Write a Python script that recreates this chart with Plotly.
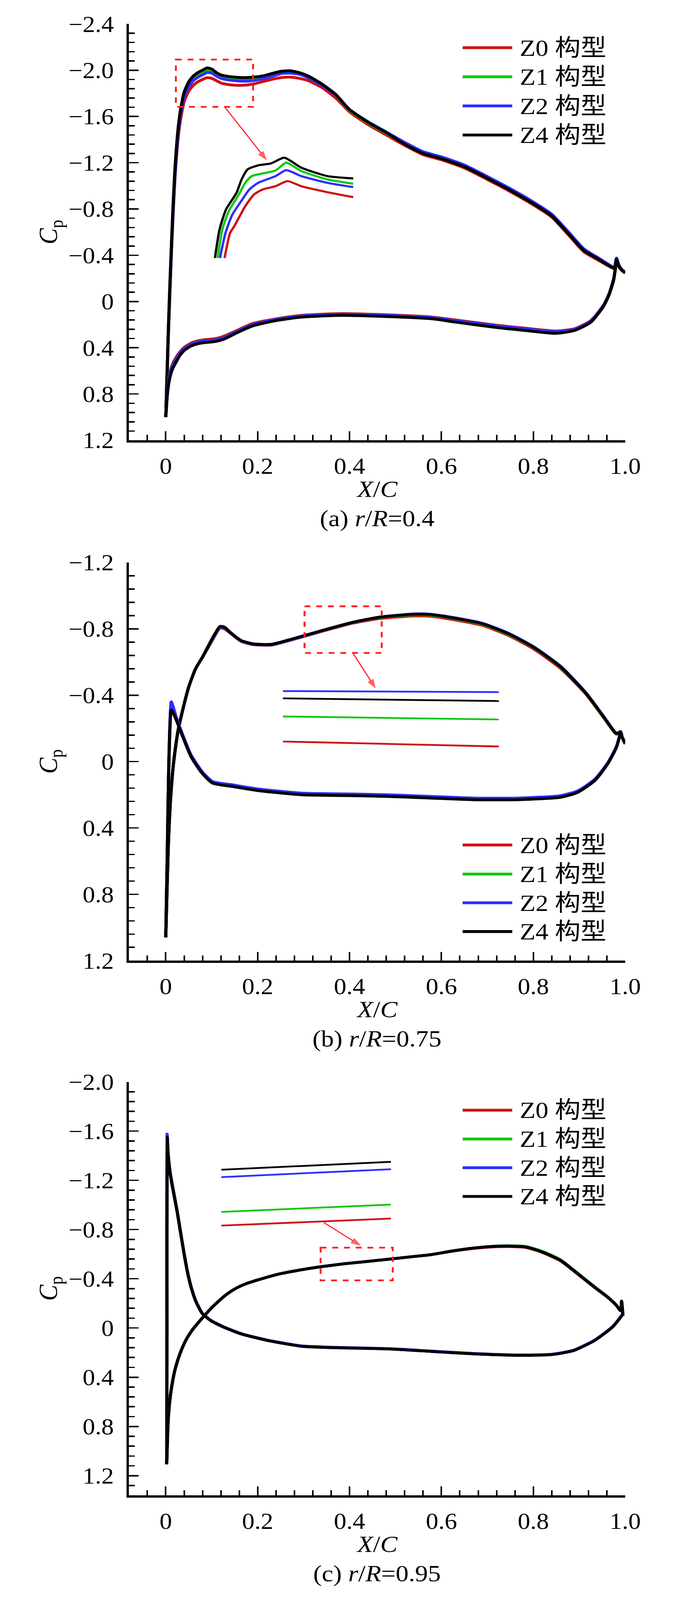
import plotly.graph_objects as go

W, H = 1772, 4509

names = ["Z0 构型", "Z1 构型", "Z2 构型", "Z4 构型"]
colors = ["#d01010", "#10c810", "#2d2dff", "#000000"]

# ---------------- (a) r/R=0.4 ----------------
xa_up = [0.0, 0.003, 0.006, 0.01, 0.015, 0.02, 0.025, 0.03, 0.035, 0.04, 0.05, 0.06, 0.07, 0.08,
         0.09, 0.1, 0.11, 0.12, 0.13, 0.15, 0.17, 0.19, 0.21, 0.23, 0.25, 0.27, 0.29, 0.31, 0.34,
         0.37, 0.4, 0.44, 0.48, 0.52, 0.56, 0.6, 0.65, 0.7, 0.75, 0.8, 0.84, 0.88, 0.91, 0.94,
         0.96, 0.976, 0.981, 0.986, 0.993, 1.0]
cpa_up_z0 = [1.0, 0.62, 0.24, -0.2, -0.68, -1.07, -1.34, -1.52, -1.64, -1.73, -1.82, -1.87, -1.9, -1.92,
             -1.935, -1.93, -1.91, -1.89, -1.88, -1.87, -1.87, -1.88, -1.9, -1.92, -1.935, -1.94, -1.93,
             -1.91, -1.85, -1.76, -1.64, -1.53, -1.44, -1.35, -1.27, -1.225, -1.155, -1.055, -0.95,
             -0.835, -0.73, -0.56, -0.43, -0.36, -0.315, -0.285, -0.36, -0.3, -0.265, -0.245]
cpa_up_z1 = [1.0, 0.6, 0.21, -0.24, -0.73, -1.13, -1.4, -1.58, -1.7, -1.79, -1.88, -1.93, -1.96, -1.98,
             -2.0, -1.99, -1.965, -1.945, -1.935, -1.925, -1.92, -1.925, -1.935, -1.955, -1.975, -1.98,
             -1.97, -1.94, -1.875, -1.785, -1.655, -1.545, -1.455, -1.36, -1.28, -1.235, -1.165, -1.065,
             -0.96, -0.845, -0.74, -0.57, -0.44, -0.37, -0.32, -0.29, -0.37, -0.31, -0.27, -0.25]
cpa_up_z2 = [1.0, 0.61, 0.22, -0.22, -0.71, -1.1, -1.37, -1.56, -1.68, -1.77, -1.86, -1.91, -1.94, -1.96,
             -1.98, -1.975, -1.95, -1.93, -1.92, -1.91, -1.905, -1.91, -1.925, -1.945, -1.97, -1.975,
             -1.965, -1.935, -1.87, -1.785, -1.66, -1.555, -1.465, -1.375, -1.295, -1.25, -1.18, -1.08,
             -0.975, -0.86, -0.755, -0.585, -0.455, -0.38, -0.33, -0.295, -0.375, -0.315, -0.275, -0.255]
cpa_up_z4 = [1.0, 0.6, 0.2, -0.25, -0.75, -1.15, -1.42, -1.6, -1.72, -1.81, -1.9, -1.95, -1.98, -2.0,
             -2.02, -2.01, -1.98, -1.96, -1.95, -1.94, -1.935, -1.94, -1.95, -1.97, -1.99, -1.995, -1.98,
             -1.95, -1.88, -1.79, -1.66, -1.55, -1.46, -1.36, -1.28, -1.235, -1.165, -1.065, -0.96,
             -0.845, -0.74, -0.57, -0.44, -0.37, -0.32, -0.29, -0.37, -0.31, -0.27, -0.25]

xa_lo = [0.0, 0.003, 0.006, 0.01, 0.015, 0.023, 0.03, 0.041, 0.055, 0.07, 0.085, 0.1, 0.115, 0.13,
         0.155, 0.19, 0.24, 0.295, 0.38, 0.48, 0.58, 0.63, 0.72, 0.78, 0.85, 0.89, 0.925, 0.953,
         0.965, 0.975, 0.981]
cpa_lo_z0 = [1.0, 0.8, 0.69, 0.6, 0.54, 0.48, 0.44, 0.395, 0.36, 0.34, 0.33, 0.325, 0.315, 0.295, 0.25,
             0.19, 0.15, 0.12, 0.105, 0.115, 0.135, 0.16, 0.205, 0.23, 0.255, 0.235, 0.165, 0.03, -0.07,
             -0.2, -0.36]
cpa_lo_z1 = [1.0, 0.82, 0.71, 0.63, 0.57, 0.51, 0.46, 0.415, 0.38, 0.36, 0.35, 0.345, 0.335, 0.315, 0.265,
             0.205, 0.16, 0.13, 0.115, 0.125, 0.145, 0.172, 0.218, 0.243, 0.268, 0.245, 0.175, 0.036,
             -0.064, -0.195, -0.37]
cpa_lo_z2 = [1.0, 0.81, 0.7, 0.615, 0.555, 0.495, 0.45, 0.405, 0.37, 0.35, 0.34, 0.335, 0.325, 0.305, 0.258,
             0.198, 0.155, 0.125, 0.11, 0.12, 0.14, 0.165, 0.21, 0.235, 0.26, 0.24, 0.17, 0.033, -0.067,
             -0.198, -0.375]
cpa_lo_z4 = [1.0, 0.82, 0.72, 0.64, 0.58, 0.52, 0.47, 0.42, 0.385, 0.365, 0.355, 0.35, 0.34, 0.32, 0.27,
             0.21, 0.165, 0.135, 0.12, 0.13, 0.15, 0.178, 0.225, 0.25, 0.275, 0.25, 0.18, 0.04, -0.06,
             -0.19, -0.37]

# enlarged view of the leading-edge peak, drawn inside panel (a)
ins_a_x_z0 = [0.128, 0.14, 0.149, 0.173, 0.192, 0.211, 0.239, 0.265, 0.295, 0.352, 0.408]
ins_a_cp_z0 = [-0.376, -0.593, -0.65, -0.824, -0.925, -0.969, -0.997, -1.041, -0.997, -0.945, -0.902]
ins_a_x_z1 = [0.113, 0.123, 0.137, 0.159, 0.173, 0.187, 0.239, 0.262, 0.295, 0.352, 0.408]
ins_a_cp_z1 = [-0.376, -0.622, -0.781, -0.925, -1.026, -1.084, -1.133, -1.2, -1.128, -1.055, -1.018]
ins_a_x_z2 = [0.118, 0.13, 0.145, 0.164, 0.182, 0.201, 0.239, 0.262, 0.295, 0.352, 0.408]
ins_a_cp_z2 = [-0.376, -0.593, -0.752, -0.867, -0.969, -1.026, -1.084, -1.136, -1.084, -1.026, -0.989]
ins_a_x_z4 = [0.107, 0.117, 0.131, 0.154, 0.165, 0.178, 0.201, 0.229, 0.258, 0.295, 0.352, 0.408]
ins_a_cp_z4 = [-0.376, -0.622, -0.795, -0.94, -1.055, -1.142, -1.177, -1.194, -1.243, -1.157, -1.084, -1.064]

# ---------------- (b) r/R=0.75 ----------------
xb_up = [0.0, 0.003, 0.006, 0.01, 0.015, 0.02, 0.027, 0.035, 0.05, 0.065, 0.08, 0.095, 0.107, 0.118,
         0.128, 0.14, 0.164, 0.19, 0.23, 0.276, 0.34, 0.408, 0.464, 0.54, 0.577, 0.633, 0.69, 0.746,
         0.8, 0.86, 0.915, 0.953, 0.981, 0.99, 0.993, 1.0]
cpb_up_z0 = [1.06, 0.75, 0.47, 0.24, 0.06, -0.06, -0.19, -0.29, -0.45, -0.56, -0.63, -0.7, -0.76, -0.805,
             -0.8, -0.775, -0.725, -0.705, -0.702, -0.735, -0.785, -0.835, -0.862, -0.878, -0.876,
             -0.852, -0.82, -0.76, -0.68, -0.56, -0.405, -0.265, -0.165, -0.175, -0.145, -0.105]
cpb_up_z1 = [1.06, 0.75, 0.47, 0.24, 0.06, -0.06, -0.19, -0.29, -0.45, -0.56, -0.63, -0.705, -0.765, -0.81,
             -0.805, -0.778, -0.728, -0.708, -0.705, -0.738, -0.788, -0.838, -0.868, -0.885, -0.883,
             -0.86, -0.827, -0.767, -0.688, -0.568, -0.408, -0.268, -0.168, -0.178, -0.148, -0.108]
cpb_up_z2 = [1.06, 0.75, 0.47, 0.24, 0.06, -0.06, -0.19, -0.29, -0.45, -0.56, -0.63, -0.705, -0.765, -0.81,
             -0.805, -0.777, -0.727, -0.707, -0.704, -0.737, -0.788, -0.84, -0.87, -0.89, -0.888,
             -0.865, -0.833, -0.773, -0.693, -0.573, -0.413, -0.272, -0.17, -0.18, -0.15, -0.11]
cpb_up_z4 = [1.06, 0.75, 0.47, 0.24, 0.06, -0.06, -0.19, -0.29, -0.45, -0.56, -0.63, -0.71, -0.77, -0.815,
             -0.81, -0.78, -0.73, -0.71, -0.707, -0.74, -0.79, -0.84, -0.87, -0.888, -0.886, -0.862,
             -0.83, -0.77, -0.69, -0.57, -0.41, -0.27, -0.17, -0.18, -0.15, -0.11]

xb_lo = [0.0, 0.003, 0.006, 0.009, 0.012, 0.015, 0.023, 0.037, 0.055, 0.079, 0.102, 0.145, 0.2, 0.295,
         0.39, 0.483, 0.577, 0.67, 0.765, 0.86, 0.897, 0.934, 0.962, 0.981, 0.99]
cpb_lo_z0 = [1.06, 0.6, 0.1, -0.22, -0.35, -0.33, -0.26, -0.155, -0.035, 0.065, 0.125, 0.145, 0.17, 0.195,
             0.2, 0.205, 0.215, 0.225, 0.225, 0.21, 0.18, 0.11, 0.01, -0.09, -0.178]
cpb_lo_z1 = [1.06, 0.6, 0.1, -0.21, -0.33, -0.315, -0.255, -0.152, -0.032, 0.068, 0.128, 0.148, 0.173,
             0.198, 0.203, 0.208, 0.218, 0.228, 0.228, 0.213, 0.183, 0.112, 0.012, -0.088, -0.178]
cpb_lo_z2 = [1.06, 0.6, 0.1, -0.23, -0.36, -0.34, -0.265, -0.16, -0.04, 0.06, 0.12, 0.14, 0.165, 0.19,
             0.195, 0.2, 0.21, 0.22, 0.22, 0.205, 0.176, 0.106, 0.007, -0.092, -0.18]
cpb_lo_z4 = [1.06, 0.6, 0.1, -0.2, -0.31, -0.3, -0.25, -0.15, -0.03, 0.07, 0.13, 0.15, 0.175, 0.2,
             0.205, 0.21, 0.22, 0.23, 0.23, 0.215, 0.185, 0.114, 0.013, -0.087, -0.178]

# enlarged view of the suction side near X/C=0.3-0.47 (segment ends)
ins_b_x = [0.255, 0.725]
ins_b_cp_z0 = [-0.121, -0.091]
ins_b_cp_z1 = [-0.272, -0.254]
ins_b_cp_z2 = [-0.425, -0.419]
ins_b_cp_z4 = [-0.381, -0.365]

# ---------------- (c) r/R=0.95 ----------------
xc_s = [0.002, 0.0025, 0.003, 0.005, 0.008, 0.012, 0.018, 0.025, 0.032, 0.04, 0.048, 0.056, 0.065,
        0.079, 0.098, 0.126, 0.164, 0.22, 0.295, 0.389, 0.483, 0.577, 0.671, 0.765, 0.84, 0.887,
        0.934, 0.972, 0.99, 0.995]
cpc_s_z0 = [1.107, 0.0, -1.55, -1.41, -1.3, -1.2, -1.08, -0.94, -0.78, -0.6, -0.44, -0.32, -0.22,
            -0.12, -0.06, -0.007, 0.048, 0.1, 0.148, 0.162, 0.17, 0.19, 0.21, 0.222, 0.216, 0.184,
            0.1, -0.007, -0.088, -0.115]
cpc_s_z1 = [1.107, 0.0, -1.56, -1.42, -1.3, -1.2, -1.08, -0.94, -0.78, -0.6, -0.44, -0.32, -0.22,
            -0.12, -0.06, -0.007, 0.048, 0.1, 0.148, 0.162, 0.17, 0.19, 0.21, 0.222, 0.216, 0.184,
            0.1, -0.007, -0.088, -0.115]
cpc_s_z2 = [1.107, 0.0, -1.575, -1.43, -1.31, -1.21, -1.09, -0.945, -0.785, -0.605, -0.445, -0.325,
            -0.225, -0.123, -0.063, -0.01, 0.045, 0.097, 0.145, 0.159, 0.167, 0.187, 0.207, 0.219,
            0.213, 0.181, 0.097, -0.01, -0.09, -0.117]
cpc_s_z4 = [1.107, 0.0, -1.55, -1.41, -1.3, -1.2, -1.08, -0.94, -0.78, -0.6, -0.44, -0.32, -0.22,
            -0.12, -0.06, -0.007, 0.048, 0.1, 0.148, 0.162, 0.17, 0.19, 0.21, 0.222, 0.216, 0.184,
            0.1, -0.007, -0.088, -0.115]

xc_u = [0.002, 0.004, 0.006, 0.01, 0.015, 0.02, 0.027, 0.035, 0.045, 0.057, 0.07, 0.084, 0.1, 0.117,
        0.135, 0.154, 0.175, 0.2, 0.248, 0.295, 0.342, 0.389, 0.436, 0.483, 0.53, 0.577, 0.624, 0.671,
        0.718, 0.746, 0.784, 0.82, 0.859, 0.897, 0.934, 0.962, 0.981, 0.99, 0.992, 0.995]
cpc_u_z0 = [1.107, 0.86, 0.7, 0.55, 0.43, 0.34, 0.25, 0.17, 0.09, 0.02, -0.04, -0.1, -0.165, -0.225,
            -0.28, -0.325, -0.36, -0.39, -0.44, -0.473, -0.5, -0.522, -0.54, -0.558, -0.577, -0.596,
            -0.624, -0.647, -0.66, -0.662, -0.654, -0.613, -0.546, -0.437, -0.327, -0.248, -0.182,
            -0.14, -0.215, -0.1]
cpc_u_z1 = [1.107, 0.86, 0.7, 0.55, 0.43, 0.34, 0.25, 0.17, 0.09, 0.02, -0.04, -0.1, -0.165, -0.225,
            -0.28, -0.325, -0.36, -0.39, -0.44, -0.473, -0.5, -0.522, -0.54, -0.558, -0.577, -0.596,
            -0.626, -0.65, -0.665, -0.668, -0.662, -0.622, -0.555, -0.444, -0.333, -0.252, -0.185,
            -0.14, -0.218, -0.1]
cpc_u_z2 = [1.107, 0.86, 0.7, 0.55, 0.43, 0.34, 0.25, 0.17, 0.09, 0.02, -0.04, -0.1, -0.165, -0.225,
            -0.28, -0.325, -0.36, -0.39, -0.44, -0.473, -0.5, -0.522, -0.54, -0.558, -0.577, -0.596,
            -0.626, -0.65, -0.664, -0.666, -0.658, -0.617, -0.55, -0.44, -0.33, -0.25, -0.183,
            -0.14, -0.218, -0.1]
cpc_u_z4 = [1.107, 0.86, 0.7, 0.55, 0.43, 0.34, 0.25, 0.17, 0.09, 0.02, -0.04, -0.1, -0.165, -0.225,
            -0.28, -0.325, -0.36, -0.39, -0.44, -0.473, -0.5, -0.522, -0.54, -0.558, -0.577, -0.596,
            -0.626, -0.65, -0.664, -0.666, -0.658, -0.617, -0.55, -0.44, -0.33, -0.25, -0.183,
            -0.14, -0.218, -0.1]

ins_c_x = [0.121, 0.49]
ins_c_cp_z0 = [-0.832, -0.889]
ins_c_cp_z1 = [-0.943, -1.003]
ins_c_cp_z2 = [-1.226, -1.29]
ins_c_cp_z4 = [-1.286, -1.35]

# zoom boxes [x0, x1, cp0, cp1] and arrows [x_tail, x_head], [cp_tail, cp_head]
box_a = [0.022, 0.19, -2.092, -1.683]
box_b = [0.302, 0.47, -0.936, -0.655]
box_c = [0.337, 0.494, -0.653, -0.387]
arrow_a_x, arrow_a_cp = [0.128, 0.22], [-1.683, -1.22]
arrow_b_x, arrow_b_cp = [0.408, 0.457], [-0.651, -0.44]
arrow_c_x, arrow_c_cp = [0.344, 0.425], [-0.857, -0.667]

# axis ranges and ticks
x_range = [-0.08, 1.0]
x_ticks = [0, 0.2, 0.4, 0.6, 0.8, 1.0]
x_ticktext = ["0", "0.2", "0.4", "0.6", "0.8", "1.0"]
ya_ticks = [-2.4, -2.0, -1.6, -1.2, -0.8, -0.4, 0, 0.4, 0.8, 1.2]
yb_ticks = [-1.2, -0.8, -0.4, 0, 0.4, 0.8, 1.2]
yc_ticks = [-2.0, -1.6, -1.2, -0.8, -0.4, 0, 0.4, 0.8, 1.2]
captions = ["(a) <i>r</i>/<i>R</i>=0.4", "(b) <i>r</i>/<i>R</i>=0.75", "(c) <i>r</i>/<i>R</i>=0.95"]


def ytext(vals):
    out = []
    for v in vals:
        if v == 0:
            out.append("0")
        else:
            out.append(("−" if v < 0 else "") + "%.1f" % abs(v))
    return out


# panel frames in the 1772 x 4509 picture; legend rows are px below each frame top
x_left, x_right = 338, 1638
panels = [
    dict(top=33, bottom=1225, yr=[1.2, -2.4], ticks=ya_ticks, legend=[67, 149, 231, 313]),
    dict(top=1575, bottom=2715, yr=[1.2, -1.2], ticks=yb_ticks, legend=[796, 878, 959, 1040]),
    dict(top=3062, bottom=4246, yr=[1.36, -2.0], ticks=yc_ticks, legend=[80, 161, 242, 323]),
]

serif = "Liberation Serif, Times New Roman, serif"
legend_font = "Liberation Serif, Noto Sans CJK SC, serif"
red_mark = "#ff2020"

fig = go.Figure()


def ax_names(k):
    return ("x", "y") if k == 1 else ("x%d" % k, "y%d" % k)


def add_curves(k, xs, cps, width=8):
    xa, ya = ax_names(k)
    for i in range(4):
        fig.add_trace(go.Scatter(x=xs[i], y=cps[i], mode="lines",
                                 line=dict(color=colors[i], width=width, shape="spline", smoothing=0.6),
                                 name=names[i], showlegend=False, xaxis=xa, yaxis=ya))


# panel (a)
add_curves(1, [xa_up] * 4, [cpa_up_z0, cpa_up_z1, cpa_up_z2, cpa_up_z4])
add_curves(1, [xa_lo] * 4, [cpa_lo_z0, cpa_lo_z1, cpa_lo_z2, cpa_lo_z4])
add_curves(1, [ins_a_x_z0, ins_a_x_z1, ins_a_x_z2, ins_a_x_z4],
           [ins_a_cp_z0, ins_a_cp_z1, ins_a_cp_z2, ins_a_cp_z4], width=6)
# panel (b)
add_curves(2, [xb_up] * 4, [cpb_up_z0, cpb_up_z1, cpb_up_z2, cpb_up_z4])
add_curves(2, [xb_lo] * 4, [cpb_lo_z0, cpb_lo_z1, cpb_lo_z2, cpb_lo_z4])
add_curves(2, [ins_b_x] * 4, [ins_b_cp_z0, ins_b_cp_z1, ins_b_cp_z2, ins_b_cp_z4], width=5)
# panel (c)
add_curves(3, [xc_s] * 4, [cpc_s_z0, cpc_s_z1, cpc_s_z2, cpc_s_z4])
add_curves(3, [xc_u] * 4, [cpc_u_z0, cpc_u_z1, cpc_u_z2, cpc_u_z4])
add_curves(3, [ins_c_x] * 4, [ins_c_cp_z0, ins_c_cp_z1, ins_c_cp_z2, ins_c_cp_z4], width=5)

# red arrows from each zoom box to its enlarged view
for k, (axx, acp) in enumerate([(arrow_a_x, arrow_a_cp), (arrow_b_x, arrow_b_cp),
                                (arrow_c_x, arrow_c_cp)], start=1):
    xa, ya = ax_names(k)
    fig.add_trace(go.Scatter(x=axx, y=acp, mode="lines+markers", xaxis=xa, yaxis=ya,
                             line=dict(color=red_mark, width=3), showlegend=False,
                             marker=dict(symbol="arrow", size=[0, 28], angleref="previous",
                                         color=red_mark, line=dict(width=0))))

layout = dict(width=W, height=H, margin=dict(l=0, r=0, t=0, b=0),
              paper_bgcolor="white", plot_bgcolor="white", showlegend=False)
shapes, annotations = [], []
title_font = dict(family=serif, size=66, color="black")

for k, p in enumerate(panels, start=1):
    sx = "" if k == 1 else str(k)
    xa, ya = ax_names(k)
    ydom = [1 - p["bottom"] / H, 1 - p["top"] / H]
    layout["xaxis" + sx] = dict(
        domain=[x_left / W, x_right / W], range=x_range, anchor="y" + sx,
        tickmode="array", tickvals=x_ticks, ticktext=x_ticktext,
        ticks="inside", ticklen=25, tickwidth=4, tickcolor="black",
        minor=dict(ticks="inside", ticklen=15, tickwidth=4, tickcolor="black", dtick=0.04, tick0=0),
        showline=True, linewidth=6, linecolor="black", mirror=False,
        showgrid=False, zeroline=False, ticklabelstandoff=12,
        tickfont=dict(family=serif, size=64, color="black"))
    layout["yaxis" + sx] = dict(
        domain=ydom, range=p["yr"], anchor="x" + sx,
        tickmode="array", tickvals=p["ticks"], ticktext=ytext(p["ticks"]),
        ticks="inside", ticklen=25, tickwidth=4, tickcolor="black",
        minor=dict(ticks="inside", ticklen=15, tickwidth=4, tickcolor="black", dtick=0.08, tick0=0),
        showline=True, linewidth=6, linecolor="black", mirror=False,
        showgrid=False, zeroline=False, ticklabelstandoff=20,
        tickfont=dict(family=serif, size=64, color="black"))

    # axis titles and caption, fixed px away from the axes
    annotations.append(dict(text="<i>C</i><sub>p</sub>", x=0, y=0.5, xref=xa + " domain",
                            yref=ya + " domain", xshift=-203, textangle=-90, showarrow=False,
                            xanchor="center", yanchor="middle",
                            font=dict(family=serif, size=68, color="black")))
    annotations.append(dict(text="<i>X</i>/<i>C</i>", x=0.5, y=0, xref=xa + " domain",
                            yref=ya + " domain", yshift=-137, showarrow=False,
                            xanchor="center", yanchor="middle", font=title_font))
    annotations.append(dict(text=captions[k - 1], x=0.5, y=0, xref=xa + " domain", yref=ya + " domain",
                            yshift=-220, showarrow=False, xanchor="center", yanchor="middle",
                            font=title_font))

    # legend: line samples + labels, fixed px below the panel top
    for i, off in enumerate(p["legend"]):
        shapes.append(dict(type="line", xref="paper", x0=1212 / W, x1=1342 / W,
                           yref=ya + " domain", ysizemode="pixel", yanchor=1, y0=-off, y1=-off,
                           line=dict(color=colors[i], width=8)))
        annotations.append(dict(text=names[i], x=1360 / W, y=1, xref="paper", yref=ya + " domain",
                                yshift=-off, showarrow=False, xanchor="left", yanchor="middle",
                                font=dict(family=legend_font, size=66, color="black")))

# dashed zoom boxes
for k, bx in enumerate([box_a, box_b, box_c], start=1):
    xa, ya = ax_names(k)
    shapes.append(dict(type="rect", xref=xa, yref=ya, x0=bx[0], x1=bx[1], y0=bx[2], y1=bx[3],
                       line=dict(color=red_mark, width=5, dash="dash")))

layout["shapes"] = shapes
layout["annotations"] = annotations
fig.update_layout(**layout)

# the page may open in a window shorter than the 4509 px frame: fit the whole frame into it
fit_js = """
document.documentElement.style.overflow = 'hidden';
document.body.style.margin = '0';
document.body.style.overflow = 'hidden';
var gd = document.getElementById('{plot_id}');
var sx = Math.min(1, window.innerWidth / 1772);
var sy = Math.min(1, window.innerHeight / 4509);
gd.style.transformOrigin = '0 0';
gd.style.transform = 'scale(' + sx + ',' + sy + ')';
"""
fig.write_html("out.html", config={"displayModeBar": False}, post_script=fit_js)
